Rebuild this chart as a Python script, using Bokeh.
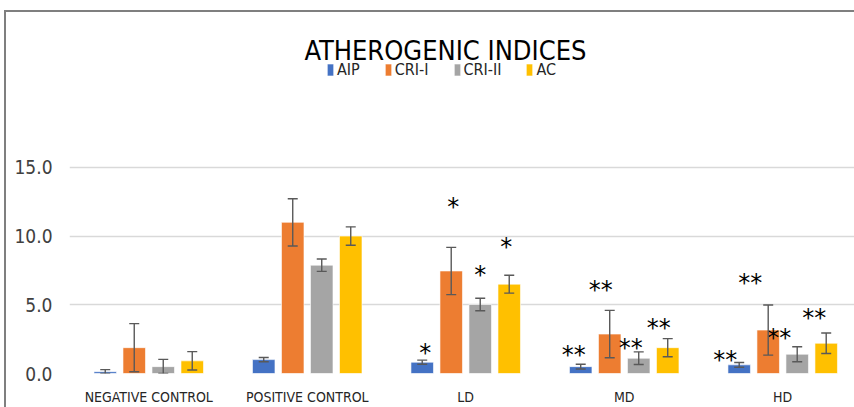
from bokeh.plotting import figure
from bokeh.models import (ColumnDataSource, Whisker, Label, Legend, LegendItem,
                          FixedTicker, TeeHead)
from bokeh.core.properties import value
from bokeh.embed import file_html
from bokeh.resources import INLINE

# ---------------- data ----------------
categories = ["NEGATIVE CONTROL", "POSITIVE CONTROL", "LD", "MD", "HD"]
series = ["AIP", "CRI-I", "CRI-II", "AC"]
colors = ["#4472C4", "#ED7D31", "#A5A5A5", "#FFC000"]

aip = [0.13, 1.01, 0.82, 0.50, 0.63]
aip_err = [0.15, 0.15, 0.15, 0.17, 0.17]
cri1 = [1.88, 11.00, 7.46, 2.87, 3.16]
cri1_err = [1.75, 1.72, 1.72, 1.72, 1.82]
cri2 = [0.50, 7.88, 5.02, 1.11, 1.40]
cri2_err = [0.53, 0.45, 0.45, 0.46, 0.55]
ac = [0.92, 10.00, 6.50, 1.88, 2.20]
ac_err = [0.67, 0.67, 0.65, 0.66, 0.75]

# significance marks (text, label height in data units)
aip_sig = ["", "", "*", "**", "**"]
aip_sig_y = [0, 0, 1.89, 1.74, 1.31]
cri1_sig = ["", "", "*", "**", "**"]
cri1_sig_y = [0, 0, 12.48, 6.46, 6.97]
cri2_sig = ["", "", "*", "**", "**"]
cri2_sig_y = [0, 0, 7.55, 2.25, 2.98]
ac_sig = ["", "", "*", "**", "**"]
ac_sig_y = [0, 0, 9.58, 3.70, 4.43]

y_ticks = [0, 5, 10, 15]

values = [aip, cri1, cri2, ac]
errors = [aip_err, cri1_err, cri2_err, ac_err]
sigs = [aip_sig, cri1_sig, cri2_sig, ac_sig]
sig_ys = [aip_sig_y, cri1_sig_y, cri2_sig_y, ac_sig_y]
sig_dx = [[0, 0, 3, -7, -14], [0, 0, 2, -9, -18], [0, 0, 0, -8, -18], [0, 0, -3, -9, -12]]

TFONT = "DejaVu Sans Condensed"

p = figure(width=854, height=407, output_backend="svg", toolbar_location=None,
           x_range=(0, 4.953), y_range=(0, 27.14),
           min_border_left=69, min_border_right=0, min_border_top=0,
           min_border_bottom=33)
p.outline_line_color = None
p.background_fill_color = None
p.border_fill_color = None
p.styles = {
    "background": "linear-gradient(#7f7f7f,#7f7f7f) 4px 10px / 2px 100% no-repeat, "
                  "linear-gradient(#7f7f7f,#7f7f7f) 4px 10px / 100% 2px no-repeat, white"
}

step = 0.183
width = 0.142
renderers = []
for i, (name, col, vals, errs) in enumerate(zip(series, colors, values, errors)):
    xs = [k + 0.5 + (i - 1.5) * step for k in range(len(categories))]
    src = ColumnDataSource(dict(
        x=xs, top=vals,
        upper=[v + e for v, e in zip(vals, errs)],
        lower=[max(v - e, 0) for v, e in zip(vals, errs)],
        sig=sigs[i], sy=sig_ys[i], dx=sig_dx[i]))
    r = p.vbar(x="x", top="top", width=width, source=src, fill_color=col,
               line_color="#ffffff", line_alpha=0.6, line_width=1)
    renderers.append(r)
    w = Whisker(base="x", upper="upper", lower="lower", source=src,
                line_color="#595959", line_width=1.4, level="overlay",
                upper_head=TeeHead(size=10, line_color="#595959", line_width=1.4),
                lower_head=TeeHead(size=10, line_color="#595959", line_width=1.4))
    p.add_layout(w)
    p.text(x="x", y="sy", text="sig", x_offset="dx", y_offset=5, source=src,
           text_font=value("DejaVu Sans"), text_font_size="24px", text_color="black",
           text_align="center", text_baseline="middle")

legend = Legend(items=[LegendItem(label=s, renderers=[r]) for s, r in zip(series, renderers)],
                orientation="horizontal", location=(257, 294),
                label_text_font=TFONT, label_text_font_size="16px",
                label_text_color="#262626",
                glyph_width=8, glyph_height=15, label_standoff=3, spacing=24,
                padding=0, margin=0, border_line_color=None,
                background_fill_alpha=0)
p.add_layout(legend, "center")

p.add_layout(Label(x=2.372, y=23.5, text="ATHEROGENIC INDICES", text_font=TFONT,
                   text_font_size="27px", text_color="black",
                   text_align="center", text_baseline="middle"))

# axes
p.xaxis.ticker = FixedTicker(ticks=[k + 0.5 for k in range(len(categories))])
p.xaxis.major_label_overrides = {k + 0.5: c for k, c in enumerate(categories)}
p.xaxis.major_label_text_font = TFONT
p.xaxis.major_label_text_font_size = "14px"
p.xaxis.major_label_text_color = "#262626"
p.xaxis.major_label_standoff = 15
p.xaxis.major_tick_out = 0
p.xaxis.major_tick_in = 0
p.xaxis.axis_line_color = None
p.xaxis.major_tick_line_color = None
p.xaxis.minor_tick_line_color = None

p.yaxis.ticker = FixedTicker(ticks=y_ticks)
p.yaxis.major_label_overrides = {t: f"{t:.1f}" for t in y_ticks}
p.yaxis.major_label_text_font = TFONT
p.yaxis.major_label_text_font_size = "19px"
p.yaxis.major_label_text_color = "#404040"
p.yaxis.major_label_standoff = 17
p.yaxis.major_tick_out = 0
p.yaxis.major_tick_in = 0
p.yaxis.axis_line_color = None
p.yaxis.major_tick_line_color = None
p.yaxis.minor_tick_line_color = None

p.xgrid.grid_line_color = None
p.ygrid.ticker = FixedTicker(ticks=y_ticks)
p.ygrid.grid_line_color = "#D9D9D9"
p.ygrid.grid_line_width = 1.5

open("out.html", "w").write(file_html(p, INLINE))
